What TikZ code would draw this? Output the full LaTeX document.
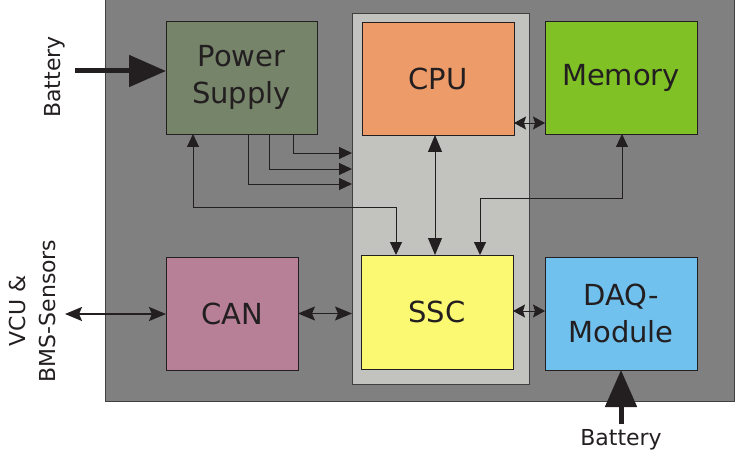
\documentclass[tikz,border=0pt]{standalone}
\usepackage{fontspec}
\setmainfont{DejaVu Sans}
\usetikzlibrary{arrows.meta,calc}
\definecolor{outerbg}{RGB}{128,128,128}
\definecolor{innerbg}{RGB}{194,195,190}
\definecolor{psc}{RGB}{118,132,106}
\definecolor{cpuc}{RGB}{238,155,106}
\definecolor{memc}{RGB}{128,193,38}
\definecolor{canc}{RGB}{183,128,150}
\definecolor{sscc}{RGB}{251,249,114}
\definecolor{daqc}{RGB}{113,193,239}
\definecolor{ink}{RGB}{35,31,32}
\begin{document}
\begin{tikzpicture}[x=1pt,y=1pt,
  >={Triangle[length=13pt,width=12pt]},
  blk/.style={draw=ink, line width=0.9pt, outer sep=0pt, inner sep=0pt,
    minimum width=152pt, minimum height=113pt, align=center,
    font=\fontsize{29}{37}\selectfont, text=ink},
  panel/.style={draw=black!75, line width=0.9pt, outer sep=0pt, inner sep=0pt},
  conn/.style={line width=0.9pt, draw=ink},
  canarrow/.style={draw=ink, {Stealth[length=17pt,width=14pt,inset=3pt]}-{Stealth[length=17pt,width=14pt,inset=3pt]}},
  bigarrow/.style={line width=5pt, draw=ink, -{Triangle[length=37pt,width=31pt]}},
  sidelabel/.style={font=\fontsize{22}{30}\selectfont, text=ink, align=center, inner sep=0pt}
]
\useasboundingbox (0,0) rectangle (735,-454);
% panels
\node[panel, fill=outerbg, minimum width=629pt, minimum height=402pt] (outer) at (419.5,-200) {};
\node[panel, fill=innerbg, minimum width=177pt, minimum height=371pt] (lbox) at (440.5,-198.5) {};
% blocks
\node[blk, fill=psc, minimum width=151pt] (ps) at (241.5,-77.5) {Power\\Supply};
\node[blk, fill=cpuc] (cpu) at (438,-78.5) {CPU};
\node[blk, fill=memc] (mem) at (621,-77.5) {Memory};
\node[blk, fill=canc, minimum width=132pt] (can) at (232,-313.5) {CAN};
\node[blk, fill=sscc, minimum height=114pt] (ssc) at (437,-312) {SSC};
\node[blk, fill=daqc] (daq) at (621,-313.5) {DAQ-\\Module};
% external labels and anchors
\coordinate (batL) at (75,-71);
\coordinate (batB) at (621,-424);
\coordinate (vcu) at (65,-314);
\node[sidelabel, rotate=90] (batLlbl) at (55,-77) {Battery};
\node[sidelabel] (batBlbl) at (621,-440) {Battery};
\node[sidelabel, rotate=90] (vculbl) at (32,-311) {VCU \&\\BMS-Sensors};
% thick battery arrows
\draw[bigarrow] (batL) -- (batL -| ps.west);
\draw[bigarrow] (batB) -- (daq.south);
% power supply outputs
\draw[conn, ->] ($(ps.south west)+(127,0)$) |- ($(lbox.north west)+(0,-140)$);
\draw[conn, ->] ($(ps.south west)+(103,0)$) |- ($(lbox.north west)+(0,-156)$);
\draw[conn, ->] ($(ps.south west)+(82,0)$) |- ($(lbox.north west)+(0,-171)$);
% PS <-> SSC
\draw[conn, <->] ($(ps.south west)+(27,0)$) |- ($(ssc.north west)+(35,48)$) -- ($(ssc.north west)+(35,0)$);
% CPU <-> SSC
\draw[conn, {Triangle[length=17pt,width=14pt]}-{Triangle[length=17pt,width=14pt]}] ($(cpu.south)+(-3,0)$) -- ($(ssc.north)+(-2,0)$);
% Memory <-> SSC
\draw[conn, <->] ($(mem.south)+(1,0)$) |- ($(ssc.north west)+(119,57)$) -- ($(ssc.north west)+(119,0)$);
% CPU <-> Memory
\draw[conn, {Stealth[length=12pt,width=13pt,inset=2pt]}-{Stealth[length=12pt,width=13pt,inset=2pt]}] ($(cpu.south east)+(0,12)$) -- ($(mem.south west)+(0,11)$);
% CAN links
\draw[canarrow, line width=2pt] (vcu) -- (vcu -| can.west);
\draw[canarrow, line width=1pt] (can.east) -- (can.east -| lbox.west);
% SSC <-> DAQ
\draw[conn, {Stealth[length=12pt,width=13pt,inset=2pt]}-{Stealth[length=12pt,width=13pt,inset=2pt]}] ($(ssc.east)+(0,1)$) -- ($(ssc.east -| daq.west)+(0,1)$);
\end{tikzpicture}
\end{document}
